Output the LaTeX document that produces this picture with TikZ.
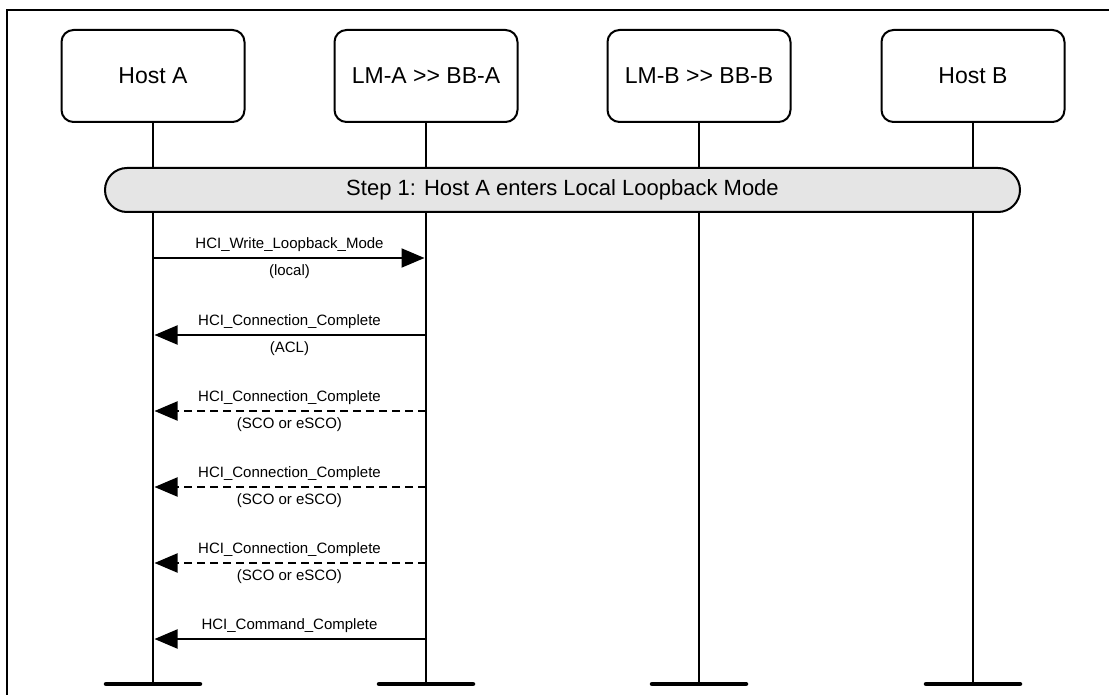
\documentclass[tikz,border=0pt]{standalone}
\usepackage{fontspec}
\setmainfont{Liberation Sans}[Ligatures=NoCommon]
\usetikzlibrary{arrows.meta}
\begin{document}
\begin{tikzpicture}[x=1pt,y=-1pt,
  entity/.style={draw, line width=2pt, rounded corners=12pt, minimum width=183pt, minimum height=92pt, font=\fontsize{23}{26}\selectfont, inner sep=0pt},
  life/.style={line width=2pt},
  endbar/.style={line width=4.5pt, line cap=round},
  msg/.style={line width=2pt, -{Triangle[length=23pt,width=19pt]}, shorten >=1.5pt},
  dmsg/.style={msg, dash pattern=on 8pt off 5pt},
  lbl/.style={font=\fontsize{15}{17}\selectfont, inner sep=0pt},
  stepbar/.style={draw, line width=2pt, fill=black!10, rounded corners=22pt, minimum width=915pt, minimum height=44pt, font=\fontsize{22}{25}\selectfont, inner sep=0pt}
]
\useasboundingbox (0,0) rectangle (1109,695);
% frame
\draw[line width=2.5pt] (7,695) -- (7,10) -- (1109,10);
% entities
\node[entity] (hA) at (153,76) {Host A};
\node[entity] (lA) at (426,76) {LM-A {>}{>} BB-A};
\node[entity] (lB) at (699,76) {LM-B {>}{>} BB-B};
\node[entity] (hB) at (973,76) {Host B};
% lifeline ends
\coordinate (ehA) at (153,684);
\coordinate (elA) at (426,684);
\coordinate (elB) at (699,684);
\coordinate (ehB) at (973,684);
\foreach \n in {hA,lA,lB,hB}{
  \draw[life] (\n.south) -- (e\n);
  \draw[endbar] ([xshift=-47pt]e\n) -- ([xshift=47pt]e\n);
}
% step bar
\node[stepbar] (step) at (562.5,190) {Step 1: Host A enters Local Loopback Mode};
% message coordinates
\foreach \i/\y in {1/258,2/335,3/411,4/487,5/563,6/639}{
  \coordinate (a\i) at (153,\y);
  \coordinate (b\i) at (426,\y);
}
\draw[msg] (a1) -- (b1);
\node[lbl] (m1t) at (289.5,245) {HCI\_Write\_Loopback\_Mode};
\node[lbl] (m1b) at (289.5,272) {(local)};
\draw[msg] (b2) -- (a2);
\node[lbl] (m2t) at (289.5,322) {HCI\_Connection\_Complete};
\node[lbl] (m2b) at (289.5,349) {(ACL)};
\draw[dmsg] (b3) -- (a3);
\node[lbl] (m3t) at (289.5,398) {HCI\_Connection\_Complete};
\node[lbl] (m3b) at (289.5,425) {(SCO or eSCO)};
\draw[dmsg] (b4) -- (a4);
\node[lbl] (m4t) at (289.5,474) {HCI\_Connection\_Complete};
\node[lbl] (m4b) at (289.5,501) {(SCO or eSCO)};
\draw[dmsg] (b5) -- (a5);
\node[lbl] (m5t) at (289.5,550) {HCI\_Connection\_Complete};
\node[lbl] (m5b) at (289.5,577) {(SCO or eSCO)};
\draw[msg] (b6) -- (a6);
\node[lbl] (m6t) at (289.5,626) {HCI\_Command\_Complete};
\end{tikzpicture}
\end{document}
